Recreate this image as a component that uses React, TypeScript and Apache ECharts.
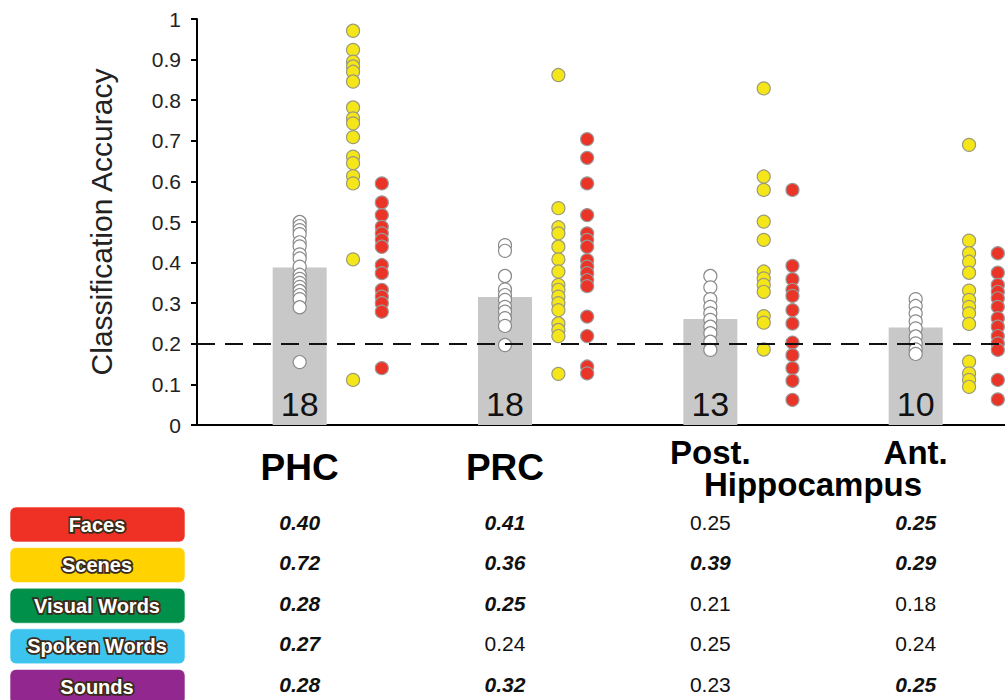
import React, { useEffect, useRef } from "react";
import * as echarts from "echarts";

const regions = ["PHC", "PRC", "Post.", "Ant."];
const regionSubLabel = "Hippocampus";
const barMeans = [0.388, 0.315, 0.261, 0.24];
const barCounts = [18, 18, 13, 10];

const whiteDots = [
  [0.5, 0.49, 0.48, 0.47, 0.45, 0.44, 0.42, 0.41, 0.39, 0.37, 0.36, 0.35, 0.34, 0.33, 0.32, 0.31, 0.29, 0.155],
  [0.443, 0.429, 0.367, 0.334, 0.32, 0.308, 0.291, 0.279, 0.263, 0.244, 0.197],
  [0.367, 0.339, 0.31, 0.291, 0.275, 0.259, 0.242, 0.226, 0.205, 0.185],
  [0.31, 0.293, 0.275, 0.255, 0.238, 0.218, 0.201, 0.186, 0.175],
];
const yellowDots = [
  [0.971, 0.924, 0.895, 0.883, 0.87, 0.846, 0.782, 0.755, 0.743, 0.709, 0.661, 0.645, 0.613, 0.595, 0.408, 0.111],
  [0.862, 0.534, 0.487, 0.472, 0.439, 0.408, 0.378, 0.345, 0.333, 0.316, 0.3, 0.283, 0.25, 0.234, 0.219, 0.126],
  [0.829, 0.612, 0.579, 0.501, 0.456, 0.378, 0.361, 0.345, 0.328, 0.268, 0.252, 0.186],
  [0.69, 0.454, 0.423, 0.402, 0.375, 0.331, 0.308, 0.291, 0.275, 0.249, 0.156, 0.127, 0.111, 0.094],
];
const redDots = [
  [0.595, 0.548, 0.517, 0.488, 0.472, 0.456, 0.439, 0.394, 0.374, 0.333, 0.316, 0.3, 0.279, 0.14],
  [0.704, 0.658, 0.595, 0.517, 0.472, 0.456, 0.439, 0.406, 0.39, 0.374, 0.357, 0.342, 0.267, 0.219, 0.144, 0.127],
  [0.579, 0.392, 0.359, 0.333, 0.318, 0.283, 0.25, 0.203, 0.172, 0.14, 0.109, 0.062],
  [0.423, 0.375, 0.345, 0.328, 0.312, 0.291, 0.263, 0.242, 0.219, 0.201, 0.185, 0.111, 0.063],
];
const chanceLevel = 0.2;

const tableCategories = ["Faces", "Scenes", "Visual Words", "Spoken Words", "Sounds"];
const tableColors = ["#ee3124", "#ffd200", "#00904a", "#3cc4ef", "#92278f"];
const tableValues = [
  ["0.40", "0.41", "0.25", "0.25"],
  ["0.72", "0.36", "0.39", "0.29"],
  ["0.28", "0.25", "0.21", "0.18"],
  ["0.27", "0.24", "0.25", "0.24"],
  ["0.28", "0.32", "0.23", "0.25"],
];
const tableSignificant = [
  [true, true, false, true],
  [true, true, true, true],
  [true, true, false, false],
  [true, false, false, false],
  [true, true, false, true],
];

const FONT = "'Liberation Sans', Arial, sans-serif";

export default function App() {
  const ref = useRef<HTMLDivElement>(null);
  useEffect(() => {
    if (!ref.current) return;
    const chart = echarts.init(ref.current, null, { renderer: "svg" });
    const gridLeft = 197;
    const gridTop = 19;
    const gridBottom = 275;
    const xMax = 3.935;
    const plotW = 1005 - gridLeft;
    const xPix = (v: number) => gridLeft + (v / xMax) * plotW;

    const mk = (arr: number[][], off: number) =>
      arr.flatMap((g, i) => g.map((v) => [i + 0.5 + off, v]));

    const graphics: any[] = [];
    regions.forEach((r, i) => {
      const cx = xPix(i + 0.5);
      const two = i >= 2;
      graphics.push({
        type: "text",
        x: cx,
        y: two ? 452 : 467,
        style: {
          text: r,
          fill: "#000",
          font: `bold ${two ? 33 : 37}px ${FONT}`,
          align: "center",
          verticalAlign: "middle",
        },
      });
    });
    graphics.push({
      type: "text",
      x: (xPix(2.5) + xPix(3.5)) / 2,
      y: 484,
      style: {
        text: regionSubLabel,
        fill: "#000",
        font: `bold 33px ${FONT}`,
        align: "center",
        verticalAlign: "middle",
      },
    });
    tableCategories.forEach((c, r) => {
      const top = 507 + r * 40.6;
      graphics.push({
        type: "rect",
        shape: { x: 10, y: top, width: 175, height: 35, r: 6 },
        style: { fill: tableColors[r], stroke: "rgba(255,255,255,0.6)", lineWidth: 1 },
      });
      graphics.push({
        type: "text",
        x: 97,
        y: top + 17.5,
        style: {
          text: c,
          fill: "#fff",
          font: `bold 20px ${FONT}`,
          align: "center",
          verticalAlign: "middle",
          stroke: "#3a2a1a",
          lineWidth: 3.5,
        },
      });
      tableValues[r].forEach((v, k) => {
        const sig = tableSignificant[r][k];
        graphics.push({
          type: "text",
          x: xPix(k + 0.5),
          y: top + 15,
          style: {
            text: v,
            fill: "#111",
            font: `${sig ? "italic bold" : "normal"} 21px ${FONT}`,
            align: "center",
            verticalAlign: "middle",
          },
        });
      });
    });

    chart.setOption({
      animation: false,
      backgroundColor: "#fff",
      grid: { left: gridLeft, right: 0, top: gridTop, bottom: gridBottom, containLabel: false },
      xAxis: {
        type: "value",
        min: 0,
        max: xMax,
        axisLine: { show: true, onZero: false, lineStyle: { color: "#000", width: 2 } },
        axisTick: { show: false },
        axisLabel: { show: false },
        splitLine: { show: false },
      },
      yAxis: {
        type: "value",
        min: 0,
        max: 1,
        interval: 0.1,
        name: "Classification Accuracy",
        nameLocation: "middle",
        nameRotate: 90,
        nameGap: 81,
        nameTextStyle: { fontSize: 30, color: "#222", fontFamily: FONT },
        axisLine: { show: true, lineStyle: { color: "#000", width: 2 } },
        axisTick: { show: true, length: 6, lineStyle: { color: "#000", width: 2 } },
        axisLabel: { fontSize: 21, color: "#222", margin: 16, fontFamily: FONT },
        splitLine: { show: false },
      },
      series: [
        {
          type: "bar",
          data: barMeans.map((v, i) => [i + 0.5, v]),
          barWidth: 54,
          itemStyle: { color: "#c8c8c8" },
          label: {
            show: true,
            position: "insideBottom",
            distance: 4,
            formatter: (p: any) => String(barCounts[p.dataIndex]),
            fontSize: 34,
            color: "#111",
            fontFamily: FONT,
          },
          markLine: {
            silent: true,
            symbol: "none",
            label: { show: false },
            lineStyle: { color: "#111", width: 2, type: [18, 10] },
            data: [{ yAxis: chanceLevel }],
          },
          z: 1,
        },
        {
          type: "scatter",
          data: mk(whiteDots, 0),
          symbolSize: 13,
          itemStyle: { color: "#fff", borderColor: "#8a8a8a", borderWidth: 1.2, opacity: 1 },
          z: 3,
        },
        {
          type: "scatter",
          data: mk(yellowDots, 0.26),
          symbolSize: 13,
          itemStyle: { color: "#f5e61a", borderColor: "#9a9a7a", borderWidth: 1.2, opacity: 1 },
          z: 3,
        },
        {
          type: "scatter",
          data: mk(redDots, 0.4),
          symbolSize: 13,
          itemStyle: { color: "#ea3428", borderColor: "#999", borderWidth: 1.2, opacity: 1 },
          z: 3,
        },
      ],
      graphic: graphics,
    });
    return () => chart.dispose();
  }, []);
  return (
    <div
      ref={ref}
      style={{ position: "absolute", left: 0, top: 0, width: 1005, height: 700 }}
    />
  );
}
